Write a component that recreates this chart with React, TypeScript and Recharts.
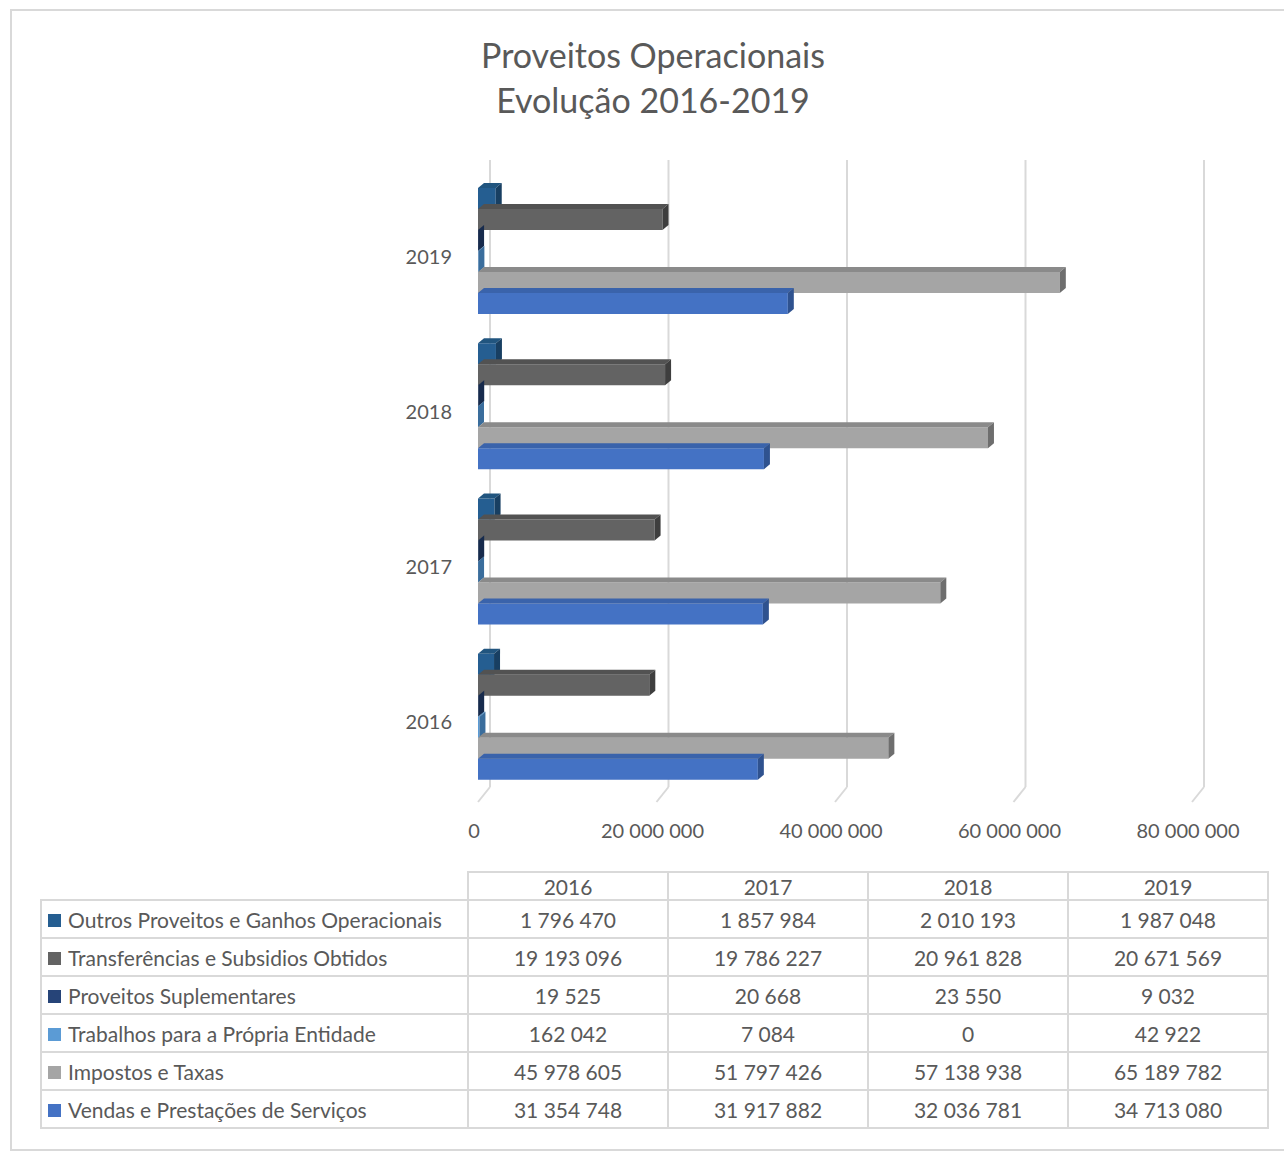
import React from 'react';
import { BarChart, Bar, XAxis, YAxis, CartesianGrid } from 'recharts';

const years = ['2016', '2017', '2018', '2019'];
const outros = [1796470, 1857984, 2010193, 1987048];
const transferencias = [19193096, 19786227, 20961828, 20671569];
const suplementares = [19525, 20668, 23550, 9032];
const trabalhos = [162042, 7084, 0, 42922];
const impostos = [45978605, 51797426, 57138938, 65189782];
const vendas = [31354748, 31917882, 32036781, 34713080];
const xTicks = [0, 20000000, 40000000, 60000000, 80000000];

const series = [
  { key: 'outros', name: 'Outros Proveitos e Ganhos Operacionais', values: outros, fill: '#255E91', top: '#21557f', side: '#183f62' },
  { key: 'transferencias', name: 'Transferências e Subsidios Obtidos', values: transferencias, fill: '#636363', top: '#525252', side: '#3e3e3e' },
  { key: 'suplementares', name: 'Proveitos Suplementares', values: suplementares, fill: '#264478', top: '#1f3864', side: '#172b4d' },
  { key: 'trabalhos', name: 'Trabalhos para a Própria Entidade', values: trabalhos, fill: '#5B9BD5', top: '#4a86bb', side: '#3a6d9c' },
  { key: 'impostos', name: 'Impostos e Taxas', values: impostos, fill: '#A5A5A5', top: '#8a8a8a', side: '#6e6e6e' },
  { key: 'vendas', name: 'Vendas e Prestações de Serviços', values: vendas, fill: '#4472C4', top: '#3a63ab', side: '#2f528f' },
];

const chartData = years
  .map((year, i) => {
    const row: Record<string, string | number> = { year };
    series.forEach((s) => (row[s.key] = s.values[i]));
    return row;
  })
  .reverse();

const fmt = (v: number) => String(v).replace(/\B(?=(\d{3})+(?!\d))/g, ' ');

const FONT = 'Lato, "Open Sans", sans-serif';
const TEXT = '#595959';
const LINE = '#d9d9d9';
const DX = 6;
const DY = 5;

const make3D = (top: string, side: string) => (props: any) => {
  const { x, y, width, height, fill } = props;
  const w = Math.max(width || 0, 0);
  return (
    <g>
      <rect x={x} y={y} width={w} height={height} fill={fill} />
      <polygon points={`${x},${y} ${x + DX},${y - DY} ${x + w + DX},${y - DY} ${x + w},${y}`} fill={top} />
      <polygon
        points={`${x + w},${y} ${x + w + DX},${y - DY} ${x + w + DX},${y + height - DY} ${x + w},${y + height}`}
        fill={side}
      />
    </g>
  );
};

const XTick = ({ x, y, payload }: any) => (
  <g>
    <line x1={x + 12} y1={y - 15} x2={x} y2={y} stroke={LINE} strokeWidth={2} />
    <text x={x - 4} y={y + 36} textAnchor="middle" fill={TEXT} fontSize={20} fontFamily={FONT}>
      {fmt(payload.value)}
    </text>
  </g>
);

const YTick = ({ x, y, payload }: any) => (
  <text x={x - 18} y={y + 13} textAnchor="end" fill={TEXT} fontSize={20} fontFamily={FONT}>
    {payload.value}
  </text>
);

const App: React.FC = () => {
  const cell: React.CSSProperties = {
    border: `2px solid ${LINE}`,
    textAlign: 'center',
    padding: 0,
    height: 36,
  };
  return (
    <div
      style={{
        position: 'absolute',
        left: 0,
        top: 0,
        width: 1284,
        height: 1151,
        overflow: 'hidden',
        background: '#fff',
        fontFamily: FONT,
        color: TEXT,
      }}
    >
      <div
        style={{
          position: 'absolute',
          left: 10,
          top: 9,
          width: 1300,
          height: 1138,
          border: `2px solid ${LINE}`,
        }}
      />
      <div
        style={{
          position: 'absolute',
          left: 353,
          top: 32,
          width: 600,
          textAlign: 'center',
          fontSize: 34,
          lineHeight: '45px',
        }}
      >
        Proveitos Operacionais
        <br />
        Evolução 2016-2019
      </div>
      <div style={{ position: 'absolute', left: 0, top: 0 }}>
        <BarChart
          width={1284}
          height={880}
          data={chartData}
          layout="vertical"
          margin={{ top: 173, right: 92, bottom: 26, left: 378 }}
          barSize={21}
          barGap={0}
        >
          <CartesianGrid
            horizontal={false}
            stroke={LINE}
            strokeWidth={2}
            y={160}
            height={627}
            verticalCoordinatesGenerator={(p: any) => {
              const o = p.offset;
              return xTicks.map((t) => o.left + (t / 80000000) * o.width + 12);
            }}
          />
          <XAxis
            type="number"
            domain={[0, 80000000]}
            ticks={xTicks}
            axisLine={false}
            tickLine={false}
            height={60}
            tick={<XTick />}
            interval={0}
          />
          <YAxis type="category" dataKey="year" width={100} axisLine={false} tickLine={false} tick={<YTick />} />
          {series.map((s) => (
            <Bar
              key={s.key}
              dataKey={s.key}
              name={s.name}
              fill={s.fill}
              isAnimationActive={false}
              shape={make3D(s.top, s.side)}
            />
          ))}
        </BarChart>
      </div>
      <table
        style={{
          position: 'absolute',
          left: 40,
          top: 871,
          width: 1227,
          borderCollapse: 'collapse',
          tableLayout: 'fixed',
          fontSize: 21,
          color: TEXT,
        }}
      >
        <colgroup>
          <col style={{ width: 427 }} />
          <col style={{ width: 200 }} />
          <col style={{ width: 200 }} />
          <col style={{ width: 200 }} />
          <col style={{ width: 200 }} />
        </colgroup>
        <tbody>
          <tr>
            <td style={{ border: 'none', height: 25 }} />
            {years.map((y) => (
              <td key={y} style={{ ...cell, height: 25, lineHeight: '25px' }}>
                {y}
              </td>
            ))}
          </tr>
          {series.map((s) => (
            <tr key={s.key}>
              <td style={{ ...cell, textAlign: 'left', paddingLeft: 6, whiteSpace: 'nowrap' }}>
                <span
                  style={{
                    display: 'inline-block',
                    width: 13,
                    height: 13,
                    background: s.fill,
                    marginRight: 7,
                    verticalAlign: 'middle',
                    position: 'relative',
                    top: -2,
                  }}
                />
                {s.name}
              </td>
              {s.values.map((v, i) => (
                <td key={i} style={cell}>
                  {fmt(v)}
                </td>
              ))}
            </tr>
          ))}
        </tbody>
      </table>
    </div>
  );
};

export default App;
